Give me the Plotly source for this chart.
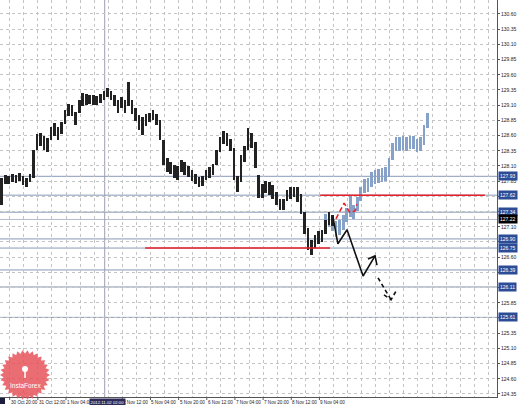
import math
import plotly.graph_objects as go

# ---------------- data ----------------
# 2-hour blocks of the H1 chart: block k covers bars 2k..2k+1
black_high = [127.90, 127.95, 127.94, 127.97, 127.95, 127.98, 127.94, 127.90, 127.97, 128.36,
              128.63, 128.64, 128.59, 128.56, 128.74, 128.81, 128.74, 128.82, 129.02, 129.12,
              129.10, 128.99, 129.19, 129.30, 129.28, 129.27, 129.27, 129.25, 129.28, 129.33,
              129.38, 129.33, 129.27, 129.19, 129.23, 129.19, 129.48, 129.19, 129.05, 128.94,
              128.91, 128.96, 128.97, 129.02, 128.96, 128.86, 128.53, 128.23, 128.17, 128.12,
              128.10, 128.20, 128.17, 128.10, 128.03, 127.97, 127.92, 127.94, 128.03, 128.08,
              128.13, 128.36, 128.58, 128.68, 128.64, 128.54, 128.40, 127.94, 128.28, 128.43,
              128.72, 128.64, 128.49, 127.95, 127.80, 127.85, 127.84, 127.79, 127.67, 127.56,
              127.56, 127.71, 127.75, 127.75, 127.75, 127.64, 127.34, 127.08, 126.88, 126.97,
              127.03, 127.05, 127.21, 127.34, 127.29]
black_low = [127.46, 127.80, 127.80, 127.84, 127.82, 127.85, 127.79, 127.75, 127.84, 127.90,
             128.36, 128.43, 128.36, 128.33, 128.53, 128.59, 128.53, 128.63, 128.79, 128.92,
             128.92, 128.77, 128.97, 129.09, 129.10, 129.12, 129.10, 129.10, 129.14, 129.19,
             129.23, 129.19, 129.09, 128.97, 129.05, 128.97, 129.09, 128.96, 128.84, 128.69,
             128.61, 128.76, 128.82, 128.86, 128.77, 128.53, 128.12, 128.00, 127.97, 127.90,
             127.87, 128.00, 127.95, 127.92, 127.85, 127.80, 127.75, 127.77, 127.87, 127.90,
             127.95, 128.12, 128.33, 128.46, 128.43, 128.35, 127.87, 127.67, 127.84, 128.17,
             128.36, 128.40, 128.07, 127.57, 127.57, 127.66, 127.62, 127.56, 127.46, 127.38,
             127.38, 127.52, 127.56, 127.59, 127.51, 127.31, 126.98, 126.72, 126.64, 126.75,
             126.82, 126.85, 126.98, 127.13, 127.11]

blue_start_block = 92
blue_high = [127.31, 127.33, 127.26, 127.20, 127.21, 127.29, 127.41, 127.61, 127.46, 127.59,
             127.75, 127.89, 127.90, 128.00, 128.03, 128.05, 128.07, 128.08, 128.23, 128.48,
             128.58, 128.58, 128.59, 128.58, 128.59, 128.59, 128.54, 128.58, 128.77, 128.97]
blue_low = [127.11, 127.10, 127.03, 126.93, 126.97, 127.05, 127.18, 127.26, 127.23, 127.36,
            127.52, 127.66, 127.67, 127.75, 127.80, 127.82, 127.84, 127.85, 127.92, 128.20,
            128.35, 128.35, 128.36, 128.35, 128.38, 128.38, 128.33, 128.35, 128.45, 128.72]

level_prices = [127.93, 127.62, 127.34, 126.90, 126.75, 126.39, 126.11, 125.61]
level_labels = ["127.93", "127.62", "127.34", "126.90", "126.75", "126.39", "126.11", "125.61"]
bid_price = 127.22
bid_label = "127.22"

red_level_prices = [127.62, 126.75]
red_level_from = [182.0, 82.5]
red_level_to = [275.5, 187.5]

price_ticks = [124.35, 124.60, 124.85, 125.10, 125.35, 125.60, 125.85, 126.10, 126.35, 126.60,
               126.85, 127.10, 127.35, 127.60, 127.85, 128.10, 128.35, 128.60, 128.85, 129.10,
               129.35, 129.60, 129.85, 130.10, 130.35, 130.60]
price_tick_labels = ["124.35", "124.60", "124.85", "125.10", "125.35", "", "125.85", "", "", "126.60",
                     "", "127.10", "", "", "127.85", "128.10", "128.35", "128.60", "128.85", "129.10",
                     "129.35", "129.60", "129.85", "130.10", "130.35", "130.60"]

x_tick_bars = [5.5, 21.5, 37.5, 69.5, 85.5, 101.5, 117.5, 133.5, 149.5, 165.5, 181.5]
x_tick_labels = ["30 Oct 20:00", "31 Oct 12:00", "1 Nov 04:00", "2 Nov 12:00", "5 Nov 04:00",
                 "5 Nov 20:00", "6 Nov 12:00", "7 Nov 04:00", "7 Nov 20:00", "8 Nov 12:00",
                 "9 Nov 04:00"]
cross_bar = 59.5
cross_label = "2012.11.02 02:00"

zig_bars = [189.2, 192.0, 197.2, 206.3, 213.1]
zig_prices = [127.26, 126.82, 127.05, 126.29, 126.62]
zig_head_bars = [209.1, 213.1, 214.2]
zig_head_prices = [126.57, 126.62, 126.47]
dash_bars = [214.8, 222.2]
dash_prices = [126.26, 125.90]
dash_head_bars = [218.2, 222.2, 225.0]
dash_head_prices = [125.98, 125.90, 126.04]
red_bars = [190.9, 195.5, 198.9, 201.7, 202.8]
red_prices = [127.23, 127.49, 127.33, 127.36, 127.47]

# ---------------- figure ----------------
W, H = 519, 405
ML, MR, MT, MB = 0, 22, 0, 8
PW, PH = W - ML - MR, H - MT - MB
X_RANGE = [0, 282.4]
Y_RANGE = [124.30, 130.83]
FONT = "Liberation Sans"
SMALL = 4.6

fig = go.Figure()

bx = [2 * (blue_start_block + k) + 1 for k in range(len(blue_high))]
fig.add_trace(go.Bar(x=bx, base=blue_low, y=[h - l for h, l in zip(blue_high, blue_low)],
                     width=1.5, marker=dict(color="#86a2c9", line=dict(width=0)),
                     hoverinfo="skip", showlegend=False))
kx = [2 * k + 1 for k in range(len(black_high))]
fig.add_trace(go.Bar(x=kx, base=black_low, y=[h - l for h, l in zip(black_high, black_low)],
                     width=1.5, marker=dict(color="#222222", line=dict(width=0)),
                     hoverinfo="skip", showlegend=False))

# annotation drawings
fig.add_trace(go.Scatter(x=zig_bars, y=zig_prices, mode="lines",
                         line=dict(color="#111", width=1.6), hoverinfo="skip", showlegend=False))
fig.add_trace(go.Scatter(x=zig_head_bars, y=zig_head_prices, mode="lines",
                         line=dict(color="#111", width=1.6), hoverinfo="skip", showlegend=False))
fig.add_trace(go.Scatter(x=dash_bars, y=dash_prices, mode="lines",
                         line=dict(color="#111", width=1.6, dash="4px,3px"), hoverinfo="skip", showlegend=False))
fig.add_trace(go.Scatter(x=dash_head_bars, y=dash_head_prices, mode="lines",
                         line=dict(color="#111", width=1.6, dash="4px,3px"), hoverinfo="skip", showlegend=False))
fig.add_trace(go.Scatter(x=red_bars, y=red_prices, mode="lines",
                         line=dict(color="#e8202a", width=1.6, dash="5px,3px"), hoverinfo="skip", showlegend=False))

shapes = []
for p in level_prices:
    shapes.append(dict(type="line", xref="paper", x0=0, x1=1, yref="y", y0=p, y1=p,
                       line=dict(color="#8799b8", width=1), layer="below"))
shapes.append(dict(type="line", xref="paper", x0=0, x1=1, yref="y", y0=bid_price, y1=bid_price,
                   line=dict(color="#b4bccb", width=1), layer="below"))
for p, a, b in zip(red_level_prices, red_level_from, red_level_to):
    shapes.append(dict(type="line", xref="x", x0=a, x1=b, yref="y", y0=p, y1=p,
                       line=dict(color="#e8202a", width=1.5)))
shapes.append(dict(type="line", xref="x", x0=cross_bar, x1=cross_bar, yref="paper", y0=0, y1=1,
                   line=dict(color="#9c9cb4", width=1), layer="below"))
# small tick marks of the time scale
for bar in x_tick_bars:
    shapes.append(dict(type="line", xref="x", x0=bar, x1=bar, yref="paper", y0=0, y1=-3 / PH,
                       line=dict(color="#555", width=1)))


def px2paper(px, py):
    return px / PW, 1 - py / PH


# InstaForex logo (starburst)
cx, cy, ro, ri, n = 25, 375, 25, 21.5, 30
pts = []
for j in range(2 * n):
    ang = j * math.pi / n
    r = ro if j % 2 == 0 else ri
    pts.append(px2paper(cx + r * math.cos(ang), cy + r * math.sin(ang)))
path = "M " + " L ".join(f"{x:.5f},{y:.5f}" for x, y in pts) + " Z"
shapes.append(dict(type="path", xref="paper", yref="paper", path=path,
                   fillcolor="#e8545c", opacity=0.85, line=dict(width=0)))
ix0, iy0 = px2paper(22, 366)
ix1, iy1 = px2paper(28, 372)
shapes.append(dict(type="circle", xref="paper", yref="paper", x0=ix0, y0=iy0, x1=ix1, y1=iy1,
                   fillcolor="white", line=dict(width=0)))
sx0, sy0 = px2paper(25, 371)
sx1, sy1 = px2paper(25, 378)
shapes.append(dict(type="line", xref="paper", yref="paper", x0=sx0, y0=sy0, x1=sx1, y1=sy1,
                   line=dict(color="white", width=1.5)))
# small marker box at the bottom-left of the time scale
bx0, by0 = px2paper(0, 398)
bx1, by1 = px2paper(5, 404)
shapes.append(dict(type="rect", xref="paper", yref="paper", x0=bx0, y0=by0, x1=bx1, y1=by1,
                   fillcolor="#1c1c3c", line=dict(width=0)))

annotations = []
for bar, lab in zip(x_tick_bars, x_tick_labels):
    annotations.append(dict(x=bar, xref="x", y=0, yref="paper", yanchor="top", xanchor="left",
                            text=lab, showarrow=False, font=dict(family=FONT, size=SMALL, color="#222"),
                            yshift=-1, xshift=-1))
annotations.append(dict(x=cross_bar, xref="x", y=0, yref="paper", yanchor="top", xanchor="center",
                        text=cross_label, showarrow=False, bgcolor="#2e2a58", borderpad=0.5,
                        font=dict(family=FONT, size=4.3, color="white"), yshift=-1, xshift=3))
for p, lab in zip(level_prices, level_labels):
    annotations.append(dict(x=1, xref="paper", y=p, yref="y", xanchor="left", yanchor="middle",
                            text=lab, showarrow=False, bgcolor="#2c4d96", borderpad=1,
                            font=dict(family=FONT, size=5, color="white"), xshift=1))
annotations.append(dict(x=1, xref="paper", y=bid_price, yref="y", xanchor="left", yanchor="middle",
                        text=bid_label, showarrow=False, bgcolor="#000000", borderpad=1,
                        font=dict(family=FONT, size=5, color="white"), xshift=1))
lx, ly = px2paper(25, 385)
annotations.append(dict(x=lx, y=ly, xref="paper", yref="paper", text="InstaForex", showarrow=False,
                        font=dict(family=FONT, size=6.5, color="white"), xanchor="center", yanchor="middle"))

fig.update_layout(
    width=W, height=H, margin=dict(l=ML, r=MR, t=MT, b=MB),
    paper_bgcolor="white", plot_bgcolor="white",
    barmode="overlay", bargap=0, showlegend=False,
    shapes=shapes, annotations=annotations,
    xaxis=dict(range=X_RANGE, tickmode="array", tickvals=[5.5 + 8 * m for m in range(35)],
               showticklabels=False, showgrid=True, gridcolor="#c4c4c4", griddash="dot",
               gridwidth=1, zeroline=False, showline=True, linecolor="#555", linewidth=1,
               ticks="", fixedrange=True, automargin=False),
    yaxis=dict(range=Y_RANGE, side="right", tickmode="array", tickvals=price_ticks,
               ticktext=price_tick_labels, tickfont=dict(family=FONT, size=5, color="#222"),
               showgrid=True, gridcolor="#c4c4c4", griddash="dot", gridwidth=1,
               zeroline=False, showline=True, linecolor="#555", linewidth=1,
               ticks="outside", ticklen=2, tickcolor="#555", automargin=False),
)

fig.write_html("out.html", config={"displayModeBar": False},
               post_script="document.body.style.margin='0';document.body.style.overflow='hidden';")
